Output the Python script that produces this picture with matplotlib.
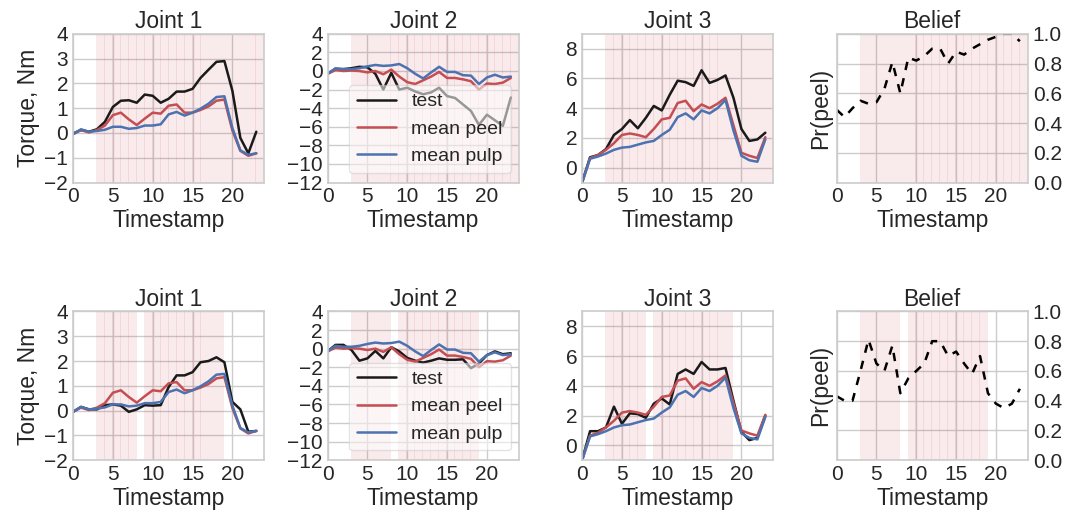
import numpy as np
import matplotlib
matplotlib.use("Agg")
import matplotlib.pyplot as plt
import seaborn as sns

sns.set_theme(style="whitegrid")
plt.rcParams["font.family"] = ["Liberation Sans", "DejaVu Sans"]
plt.rcParams["lines.scale_dashes"] = False

# ---- data -------------------------------------------------------------
timestamps = np.arange(24)

# mean torque profiles from training trials (shared by both rows)
peel_j1 = [-0.05, 0.12, 0.02, 0.12, 0.3, 0.72, 0.82, 0.55, 0.32, 0.58, 0.82, 0.78,
           1.1, 1.15, 0.82, 0.82, 0.93, 1.07, 1.3, 1.35, 0.1, -0.72, -0.92, -0.82]
pulp_j1 = [-0.05, 0.15, 0.05, 0.08, 0.13, 0.25, 0.25, 0.17, 0.2, 0.3, 0.3, 0.35,
           0.75, 0.85, 0.7, 0.82, 0.98, 1.18, 1.45, 1.48, 0.2, -0.7, -0.88, -0.82]
peel_j2 = [-0.3, 0.1, 0.0, 0.05, 0.0, -0.15, 0.0, -0.35, 0.15, -0.6, -1.2, -1.4,
           -1.0, -0.6, -0.1, -0.75, -0.75, -0.9, -1.1, -2.0, -1.35, -1.4, -1.25, -0.75]
pulp_j2 = [-0.3, 0.3, 0.2, 0.2, 0.3, 0.5, 0.65, 0.55, 0.6, 0.75, 0.3, -0.3,
           -0.8, -0.15, 0.45, -0.1, -0.1, -0.45, -0.5, -1.4, -0.7, -0.4, -0.7, -0.6]
peel_j3 = [-1.0, 0.65, 0.85, 1.2, 1.65, 2.2, 2.3, 2.2, 2.05, 2.6, 3.25, 3.35,
           4.35, 4.5, 3.8, 4.25, 4.0, 4.3, 4.7, 2.85, 1.0, 0.8, 0.65, 2.05]
pulp_j3 = [-1.0, 0.6, 0.75, 0.95, 1.2, 1.35, 1.4, 1.55, 1.7, 1.8, 2.2, 2.55,
           3.4, 3.65, 3.25, 3.85, 3.65, 4.0, 4.55, 2.5, 0.8, 0.5, 0.4, 1.9]

# test trial 1 (top row)
test1_j1 = [-0.02, 0.12, 0.05, 0.15, 0.45, 1.05, 1.3, 1.32, 1.22, 1.55, 1.5, 1.22,
            1.38, 1.67, 1.67, 1.78, 2.22, 2.55, 2.87, 2.9, 1.7, -0.2, -0.82, 0.05]
test1_j2 = [-0.3, 0.2, 0.2, 0.3, 0.45, 0.4, -0.3, -2.0, -0.2, -2.0, -1.8, -2.2,
            -2.5, -2.3, -1.8, -2.7, -2.9, -3.6, -4.3, -5.8, -4.7, -5.3, -5.9, -2.85]
test1_j3 = [-1.0, 0.7, 0.85, 1.25, 2.2, 2.6, 3.2, 2.65, 3.35, 4.15, 3.85, 4.9,
            5.85, 5.75, 5.5, 6.55, 5.7, 5.9, 6.2, 4.7, 2.6, 1.8, 1.9, 2.35]
belief1 = [0.49, 0.44, 0.5, 0.55, 0.53, 0.54, 0.63, 0.81, 0.6, 0.84, 0.82, 0.85,
           0.9, 0.9, 0.8, 0.88, 0.86, 0.9, 0.93, 0.96, 0.98, 1.0, 1.0, 0.95]

# test trial 2 (bottom row)
test2_j1 = [-0.05, 0.15, 0.05, 0.05, 0.22, 0.25, 0.2, -0.05, 0.05, 0.22, 0.2, 0.22,
            0.95, 1.42, 1.42, 1.55, 1.95, 2.0, 2.15, 1.95, 0.35, 0.05, -0.85, -0.82]
test2_j2 = [-0.3, 0.4, 0.4, -0.15, -1.3, -1.05, -0.25, -1.05, 0.15, -0.3, -1.0, -1.3,
            -1.5, -1.3, -1.05, -1.2, -1.2, -1.15, -2.1, -1.6, -0.7, -0.3, -0.6, -0.5]
test2_j3 = [-1.0, 0.95, 0.95, 1.2, 2.6, 1.45, 2.15, 2.1, 1.85, 2.8, 3.15, 2.75,
            4.8, 5.1, 4.8, 5.6, 5.1, 5.1, 5.2, 3.0, 0.9, 0.35, 0.5, 2.0]
belief2 = [0.43, 0.4, 0.4, 0.6, 0.81, 0.65, 0.6, 0.77, 0.45, 0.55, 0.6, 0.65,
           0.8, 0.8, 0.7, 0.73, 0.65, 0.58, 0.7, 0.45, 0.38, 0.35, 0.38, 0.48]

# timestamps flagged as "peel" contact for each trial
flagged1 = list(range(3, 24))
flagged2 = list(range(3, 8)) + list(range(9, 19))

rows = [
    dict(tests=[test1_j1, test1_j2, test1_j3], belief=belief1, flagged=flagged1),
    dict(tests=[test2_j1, test2_j2, test2_j3], belief=belief2, flagged=flagged2),
]
peel_means = [peel_j1, peel_j2, peel_j3]
pulp_means = [pulp_j1, pulp_j2, pulp_j3]

joint_titles = ["Joint 1", "Joint 2", "Joint 3"]
joint_ylims = [(-2, 4), (-12, 4), (-1, 9)]
joint_yticks = [np.arange(-2, 5, 1), np.arange(-12, 5, 2), np.arange(0, 9, 2)]

# ---- styling ----------------------------------------------------------
TICK_FS = 15
LABEL_FS = 16.5
LEGEND_FS = 14
TEXT = "#262626"
TEST_C = "#1a1a1a"
PEEL_C = "#C44E52"
PULP_C = "#4C72B0"
SPAN_C = (0.8, 0.2, 0.3)
LW = 1.8

fig, axes = plt.subplots(2, 4, figsize=(10.74, 5.2), dpi=100)
fig.subplots_adjust(left=0.068, right=0.957, top=0.935, bottom=0.115,
                    wspace=0.331, hspace=0.866)


def style_axis(ax):
    ax.set_xlim(0, 24)
    ax.set_xticks([0, 5, 10, 15, 20])
    ax.tick_params(labelsize=TICK_FS, colors=TEXT, length=0)
    ax.tick_params(axis="x", pad=3.5)
    ax.tick_params(axis="y", pad=3.5)
    ax.grid(True, color="0.8", lw=1)
    for s in ax.spines.values():
        s.set_color("0.8")
        s.set_linewidth(1.2)
    ax.set_xlabel("Timestamp", fontsize=LABEL_FS, color=TEXT, labelpad=2)


def shade(ax, flagged):
    for t in flagged:
        ax.axvspan(t - 0.1, t + 1.0, color=SPAN_C, alpha=0.1, lw=0)


for r, row in enumerate(rows):
    for j in range(3):
        ax = axes[r, j]
        style_axis(ax)
        shade(ax, row["flagged"])
        ax.plot(timestamps, row["tests"][j], color=TEST_C, lw=LW, label="test")
        ax.plot(timestamps, peel_means[j], color=PEEL_C, lw=LW, label="mean peel")
        ax.plot(timestamps, pulp_means[j], color=PULP_C, lw=LW, label="mean pulp")
        ax.set_ylim(*joint_ylims[j])
        ax.set_yticks(joint_yticks[j])
        ax.set_title(joint_titles[j], fontsize=LABEL_FS, color=TEXT, pad=4)
        if j == 0:
            ax.set_ylabel("Torque, Nm", fontsize=LABEL_FS, color=TEXT, labelpad=3)
        if j == 1:
            leg = ax.legend(loc="lower center", bbox_to_anchor=(0.535, 0.0),
                            fontsize=LEGEND_FS, frameon=True, framealpha=0.55,
                            borderaxespad=0.5, handlelength=2.0)
            leg.get_frame().set_edgecolor("0.8")
            for t in leg.get_texts():
                t.set_color(TEXT)

    ax = axes[r, 3]
    style_axis(ax)
    shade(ax, row["flagged"])
    ax.plot(timestamps, row["belief"], color="black", lw=LW, ls=(0, (6, 6)))
    ax.set_ylim(0, 1)
    ax.set_yticks(np.arange(0, 1.01, 0.2))
    ax.set_yticklabels([f"{v:.1f}" for v in np.arange(0, 1.01, 0.2)])
    ax.yaxis.tick_right()
    ax.yaxis.set_label_position("left")
    ax.set_ylabel("Pr(peel)", fontsize=LABEL_FS, color=TEXT, labelpad=3)
    ax.set_title("Belief", fontsize=LABEL_FS, color=TEXT, pad=4)

fig.savefig("out.png", dpi=100)
